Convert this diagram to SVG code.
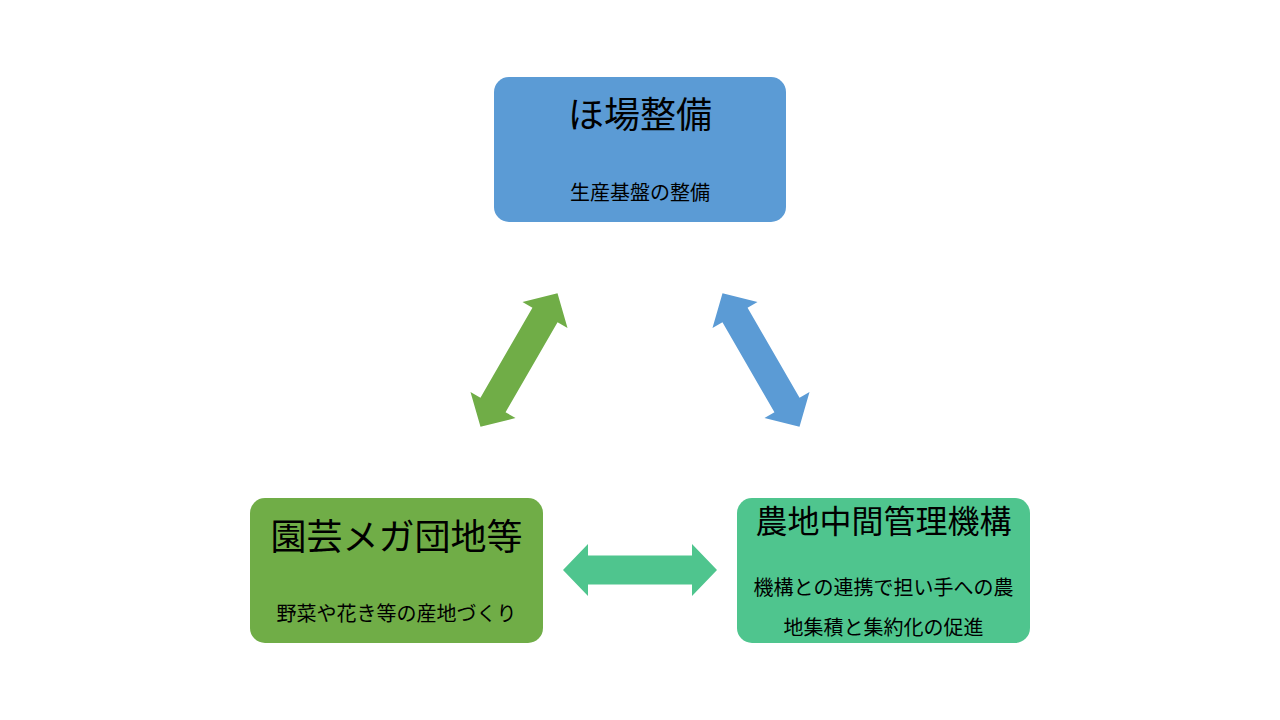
<svg xmlns="http://www.w3.org/2000/svg" width="1280" height="720" viewBox="0 0 1280 720">
<style>
text{font-family:"Noto Sans CJK JP","Noto Sans",sans-serif;fill:#000;text-anchor:middle}
.t{font-size:36px}
.t2{font-size:32px}
.s{font-size:20px}
.blue{fill:#5B9BD5}
.green{fill:#70AD47}
.teal{fill:#4FC58E}
</style>
<defs>
<path id="dbl" d="M-77,0 L-52,-26 L-52,-14.5 L52,-14.5 L52,-26 L77,0 L52,26 L52,14.5 L-52,14.5 L-52,26 Z"/>
</defs>
<rect width="1280" height="720" fill="#fff"/>
<g id="connectors">
<use href="#dbl" class="green" transform="translate(519,360) rotate(-60)"/>
<use href="#dbl" class="blue" transform="translate(761,360) rotate(60)"/>
<use href="#dbl" class="teal" transform="translate(640,570)"/>
</g>
<g id="node-hojo">
<rect x="494" y="77" width="292" height="145" rx="15" class="blue"/>
<text x="640" y="128" class="t">ほ場整備</text>
<text x="640" y="200" class="s">生産基盤の整備</text>
</g>
<g id="node-engei">
<rect x="250" y="498" width="293" height="145" rx="15" class="green"/>
<text x="396.5" y="550" class="t">園芸メガ団地等</text>
<text x="396.5" y="621" class="s">野菜や花き等の産地づくり</text>
</g>
<g id="node-kiko">
<rect x="737" y="498" width="293" height="145" rx="15" class="teal"/>
<text x="883.5" y="533" class="t2">農地中間管理機構</text>
<text x="883.5" y="595" class="s">機構との連携で担い手への農</text>
<text x="883.5" y="635" class="s">地集積と集約化の促進</text>
</g>
</svg>
